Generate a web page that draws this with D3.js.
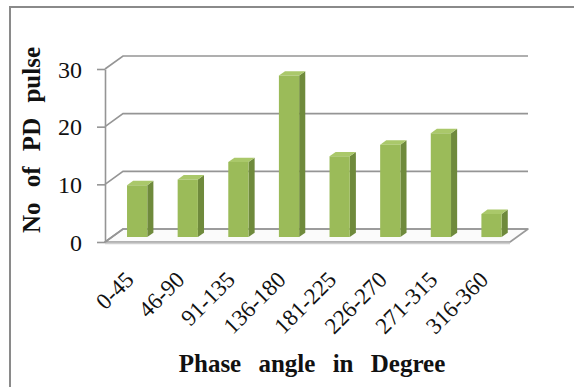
<!DOCTYPE html>
<html>
<head>
<meta charset="utf-8">
<script src="https://cdn.jsdelivr.net/npm/d3@7"></script>
</head>
<body style="margin:0">
<svg id="chart" width="574" height="387"></svg>
<script>
// Phase-resolved count of partial discharge pulses
const categories = ["0-45", "46-90", "91-135", "136-180", "181-225", "226-270", "271-315", "316-360"];
const pulseCounts = [9, 10, 13, 28, 14, 16, 18, 4];
const yTicks = [0, 10, 20, 30];
const yTitle = "No of PD pulse";
const xTitle = "Phase angle in Degree";

const svg = d3.select("#chart");
const W = 574, H = 387;

// Text helper: every label uses the same serif face
function label(sel, size, bold) {
  return sel.style("font-family", '"Times New Roman"')
    .style("font-size", size + "px")
    .style("font-weight", bold ? "bold" : "normal")
    .attr("fill", "#111");
}

// Front plane of the 3-D plot area and its depth offset toward the back wall
const front = { left: 105, right: 510, bottom: 242, top: 69 };
const depth = { dx: 18, dy: -13 };
const barNear = 0.38, barFar = 0.72; // bar depth as fractions of the floor depth

const x = d3.scaleBand().domain(categories)
  .range([front.left, front.right])
  .paddingInner(0.6).paddingOuter(0.3);
const y = d3.scaleLinear().domain([0, 30]).range([front.bottom, front.top]);

const P = (px, v, f) => [px + f * depth.dx, y(v) + f * depth.dy];
const pts = arr => arr.map(p => p.join(",")).join(" ");

// Outer frame
svg.append("rect")
  .attr("x", 10).attr("y", 7).attr("width", W).attr("height", H)
  .attr("fill", "none").attr("stroke", "#8a8a8a").attr("stroke-width", 2);

const grid = svg.append("g");

// Floor
const floorPts = [P(front.left, 0, 0), P(front.right, 0, 0), P(front.right, 0, 1), P(front.left, 0, 1)];
grid.append("polygon")
  .attr("points", pts(floorPts))
  .attr("fill", "#fbfbfb").attr("stroke", "#9a9a9a").attr("stroke-width", 1.6)
  .attr("stroke-linejoin", "round");
grid.append("line")
  .attr("x1", front.left).attr("x2", front.right)
  .attr("y1", y(0) + 1.5).attr("y2", y(0) + 1.5)
  .attr("stroke", "#cfcfcf").attr("stroke-width", 1.5);

// Back-wall gridlines with their diagonal side-wall connectors
yTicks.forEach(t => {
  const a = P(front.left, t, 0), b = P(front.left, t, 1), c = P(front.right, t, 1);
  grid.append("polyline")
    .attr("points", pts([a, b, c]))
    .attr("fill", "none").attr("stroke", "#959595").attr("stroke-width", 1.6);
});

// Value axis on the front-left edge
const yAxis = d3.axisLeft(y).tickValues(yTicks).tickSize(8).tickSizeOuter(0).tickPadding(15);
const yG = svg.append("g").attr("transform", `translate(${front.left},0)`).call(yAxis);
yG.attr("font-family", null).attr("font-size", null);
yG.select(".domain").attr("stroke", "#959595").attr("stroke-width", 1.6);
yG.selectAll(".tick line").attr("stroke", "#959595").attr("stroke-width", 1.6);
label(yG.selectAll(".tick text"), 24, false).attr("dy", "0.34em");

// 3-D bars
const bars = svg.append("g");
categories.forEach((c, i) => {
  const v = pulseCounts[i];
  const x0 = x(c), x1 = x(c) + x.bandwidth();
  const g = bars.append("g");
  const side = [P(x1, 0, barNear), P(x1, 0, barFar), P(x1, v, barFar), P(x1, v, barNear)];
  const top = [P(x0, v, barNear), P(x1, v, barNear), P(x1, v, barFar), P(x0, v, barFar)];
  const fr = [P(x0, 0, barNear), P(x1, 0, barNear), P(x1, v, barNear), P(x0, v, barNear)];
  g.append("polygon").attr("points", pts(side)).attr("fill", "#6f8a3c");
  g.append("polygon").attr("points", pts(top)).attr("fill", "#aac86a");
  g.append("polygon").attr("points", pts(fr)).attr("fill", "#9bbb59");
});

// Category labels, rotated
categories.forEach(c => {
  const cx = x(c) + x.bandwidth() / 2 + barNear * depth.dx - 2;
  label(svg.append("text"), 23, false)
    .attr("transform", `translate(${cx},281) rotate(-45)`)
    .attr("text-anchor", "end")
    .text(c);
});

// Axis titles
label(svg.append("text"), 25, true)
  .attr("transform", "translate(40,140) rotate(-90)")
  .attr("text-anchor", "middle")
  .style("word-spacing", "9px")
  .text(yTitle);

label(svg.append("text"), 25, true)
  .attr("x", 312).attr("y", 372)
  .attr("text-anchor", "middle")
  .style("word-spacing", "11px")
  .text(xTitle);
</script>
</body>
</html>
